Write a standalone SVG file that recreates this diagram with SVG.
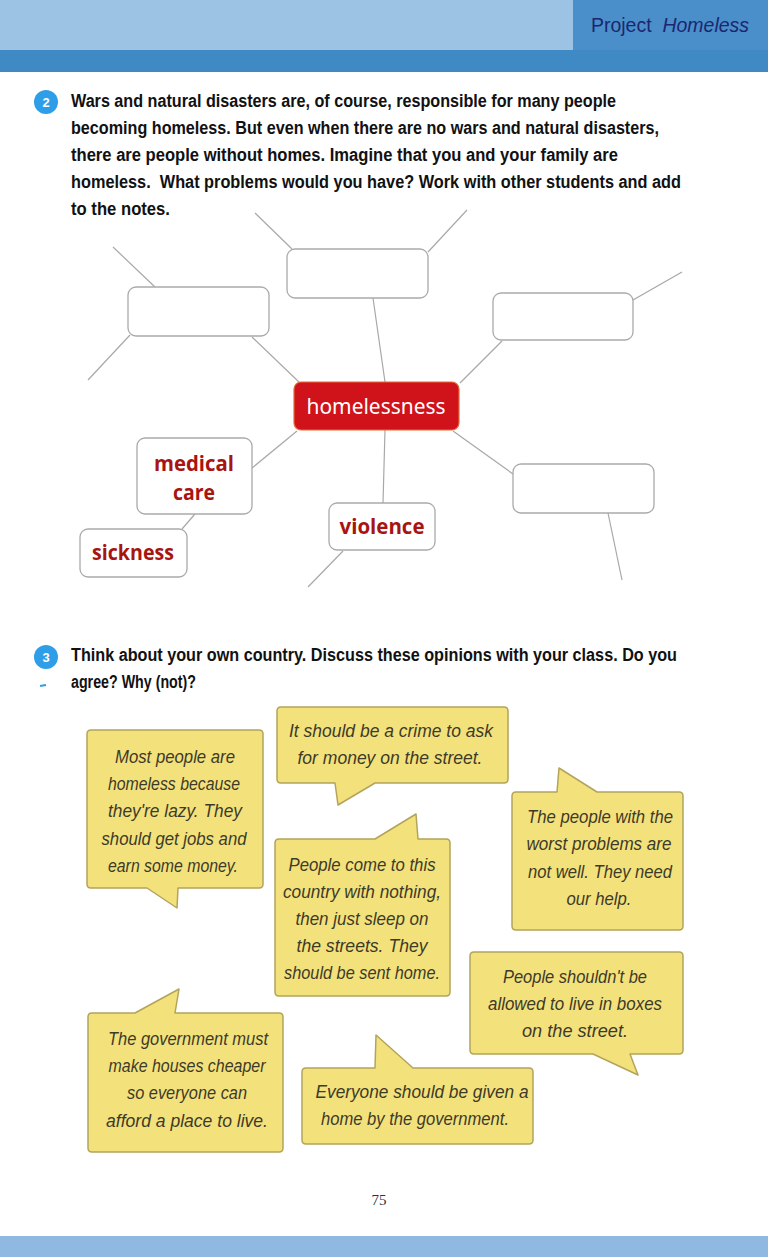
<svg xmlns="http://www.w3.org/2000/svg" width="768" height="1257" viewBox="0 0 768 1257">
<style>
.instr{font-family:"Liberation Sans",Arial,sans-serif;font-weight:bold;font-size:18px;fill:#111;}
.num{font-family:"Liberation Sans",Arial,sans-serif;font-weight:bold;font-size:13px;fill:#fff;}
.box{fill:#fff;stroke:#aaa;stroke-width:1.3;}
.lbl{font-family:"Open Sans","Liberation Sans",sans-serif;font-weight:bold;font-size:22px;fill:#a81410;text-anchor:middle;}
.conn line{stroke:#a8a8a8;stroke-width:1.2;}
.bub{fill:#f3e27c;stroke:#b3a45c;stroke-width:1.5;stroke-linejoin:round;}
.bt{font-family:"Liberation Sans",Arial,sans-serif;font-style:italic;font-size:17.5px;fill:#3e3a28;text-anchor:middle;}
</style>
<rect width="768" height="1257" fill="#fff"/>
<!-- header -->
<rect x="0" y="0" width="768" height="50" fill="#9cc2e4"/>
<rect x="573" y="0" width="195" height="50" fill="#4a8fca"/>
<rect x="0" y="50" width="768" height="22" fill="#3f89c5"/>
<text x="591" y="32" font-family="Liberation Sans,Arial,sans-serif" font-size="21" fill="#1c2670" textLength="158" lengthAdjust="spacingAndGlyphs">Project <tspan font-style="italic" dx="6">Homeless</tspan></text>
<rect x="0" y="1236" width="768" height="21" fill="#8fb9e0"/>
<text x="379" y="1205" font-family="Liberation Serif,serif" font-size="15" fill="#333" text-anchor="middle">75</text>

<!-- section 2 -->
<circle cx="46" cy="102" r="12" fill="#2f9ee8"/>
<text class="num" x="46" y="107" text-anchor="middle">2</text>
<text class="instr" x="71" y="107" textLength="545" lengthAdjust="spacingAndGlyphs">Wars and natural disasters are, of course, responsible for many people</text>
<text class="instr" x="71" y="134" textLength="588" lengthAdjust="spacingAndGlyphs">becoming homeless. But even when there are no wars and natural disasters,</text>
<text class="instr" x="71" y="161" textLength="547" lengthAdjust="spacingAndGlyphs">there are people without homes. Imagine that you and your family are</text>
<text class="instr" x="71" y="188" textLength="610" lengthAdjust="spacingAndGlyphs" xml:space="preserve">homeless.  What problems would you have? Work with other students and add</text>
<text class="instr" x="71" y="215" textLength="99" lengthAdjust="spacingAndGlyphs">to the notes.</text>

<!-- mind map connectors -->
<g id="connectors" class="conn">
<line x1="255" y1="213" x2="292" y2="249"/>
<line x1="428" y1="252" x2="467" y2="210"/>
<line x1="113" y1="247" x2="155" y2="287"/>
<line x1="130" y1="335" x2="88" y2="380"/>
<line x1="252" y1="337" x2="300" y2="383"/>
<line x1="373" y1="298" x2="385" y2="382"/>
<line x1="633" y1="300" x2="682" y2="272"/>
<line x1="502" y1="341" x2="460" y2="383"/>
<line x1="297" y1="431" x2="252" y2="468"/>
<line x1="385" y1="430" x2="383" y2="503"/>
<line x1="453" y1="431" x2="513" y2="474"/>
<line x1="608" y1="513" x2="622" y2="580"/>
<line x1="343" y1="551" x2="308" y2="587"/>
<line x1="195" y1="514" x2="182" y2="529"/>
</g>

<g id="node-top"><rect class="box" x="287" y="249" width="141" height="49" rx="8"/></g>
<g id="node-left"><rect class="box" x="128" y="287" width="141" height="49" rx="8"/></g>
<g id="node-right"><rect class="box" x="493" y="293" width="140" height="47" rx="8"/></g>
<g id="node-right-bottom"><rect class="box" x="513" y="464" width="141" height="49" rx="8"/></g>
<g id="node-center">
<rect x="294" y="382" width="165" height="48" rx="7" fill="#d0121a" stroke="#e86a3a" stroke-width="1.2"/>
<text x="376" y="414" font-family="Noto Sans,Open Sans,sans-serif" font-size="21" fill="#fff" text-anchor="middle" textLength="139" lengthAdjust="spacingAndGlyphs">homelessness</text>
</g>
<g id="node-medical">
<rect class="box" x="137" y="438" width="115" height="76" rx="8"/>
<text class="lbl" x="194" y="471" textLength="80" lengthAdjust="spacingAndGlyphs">medical</text>
<text class="lbl" x="194" y="500" textLength="42" lengthAdjust="spacingAndGlyphs">care</text>
</g>
<g id="node-sickness">
<rect class="box" x="80" y="529" width="107" height="48" rx="8"/>
<text class="lbl" x="133" y="560" textLength="82" lengthAdjust="spacingAndGlyphs">sickness</text>
</g>
<g id="node-violence">
<rect class="box" x="329" y="503" width="106" height="47" rx="8"/>
<text class="lbl" x="382" y="534" textLength="85" lengthAdjust="spacingAndGlyphs">violence</text>
</g>

<!-- section 3 -->
<circle cx="46" cy="657" r="12" fill="#2f9ee8"/>
<text class="num" x="46" y="662" text-anchor="middle">3</text>
<line x1="40" y1="686" x2="46" y2="685" stroke="#2f9ee8" stroke-width="2"/>
<text class="instr" x="71" y="661" textLength="606" lengthAdjust="spacingAndGlyphs">Think about your own country. Discuss these opinions with your class. Do you</text>
<text class="instr" x="71" y="688" textLength="125" lengthAdjust="spacingAndGlyphs">agree? Why (not)?</text>

<g id="bubble-lazy">
<path class="bub" d="M91,730 H259 Q263,730 263,734 V884 Q263,888 259,888 H178 L177,908 L147,888 H91 Q87,888 87,884 V734 Q87,730 91,730 Z"/>
<text class="bt" x="175" y="763" textLength="120" lengthAdjust="spacingAndGlyphs">Most people are</text>
<text class="bt" x="174" y="790" textLength="132" lengthAdjust="spacingAndGlyphs">homeless because</text>
<text class="bt" x="175" y="817" textLength="134" lengthAdjust="spacingAndGlyphs">they're lazy. They</text>
<text class="bt" x="174" y="845" textLength="145" lengthAdjust="spacingAndGlyphs">should get jobs and</text>
<text class="bt" x="173" y="872" textLength="130" lengthAdjust="spacingAndGlyphs">earn some money.</text>
</g>
<g id="bubble-crime">
<path class="bub" d="M281,707 H504 Q508,707 508,711 V779 Q508,783 504,783 H375 L338,805 L335,783 H281 Q277,783 277,779 V711 Q277,707 281,707 Z"/>
<text class="bt" x="391" y="737" textLength="204" lengthAdjust="spacingAndGlyphs">It should be a crime to ask</text>
<text class="bt" x="390" y="764" textLength="185" lengthAdjust="spacingAndGlyphs">for money on the street.</text>
</g>
<g id="bubble-notwell">
<path class="bub" d="M516,792 H557 L559,768 L597,792 H679 Q683,792 683,796 V926 Q683,930 679,930 H516 Q512,930 512,926 V796 Q512,792 516,792 Z"/>
<text class="bt" x="600" y="823" textLength="146" lengthAdjust="spacingAndGlyphs">The people with the</text>
<text class="bt" x="599" y="850" textLength="145" lengthAdjust="spacingAndGlyphs">worst problems are</text>
<text class="bt" x="600" y="878" textLength="144" lengthAdjust="spacingAndGlyphs">not well. They need</text>
<text class="bt" x="599" y="905" textLength="65" lengthAdjust="spacingAndGlyphs">our help.</text>
</g>
<g id="bubble-sent-home">
<path class="bub" d="M279,839 H375 L416,814 L418,839 H446 Q450,839 450,843 V992 Q450,996 446,996 H279 Q275,996 275,992 V843 Q275,839 279,839 Z"/>
<text class="bt" x="362" y="871" textLength="147" lengthAdjust="spacingAndGlyphs">People come to this</text>
<text class="bt" x="362" y="898" textLength="158" lengthAdjust="spacingAndGlyphs">country with nothing,</text>
<text class="bt" x="362" y="925" textLength="133" lengthAdjust="spacingAndGlyphs">then just sleep on</text>
<text class="bt" x="362" y="952" textLength="131" lengthAdjust="spacingAndGlyphs">the streets. They</text>
<text class="bt" x="362" y="979" textLength="156" lengthAdjust="spacingAndGlyphs">should be sent home.</text>
</g>
<g id="bubble-boxes">
<path class="bub" d="M474,952 H679 Q683,952 683,956 V1050 Q683,1054 679,1054 H630 L638,1075 L593,1054 H474 Q470,1054 470,1050 V956 Q470,952 474,952 Z"/>
<text class="bt" x="575" y="983" textLength="144" lengthAdjust="spacingAndGlyphs">People shouldn't be</text>
<text class="bt" x="575" y="1010" textLength="174" lengthAdjust="spacingAndGlyphs">allowed to live in boxes</text>
<text class="bt" x="575" y="1037" textLength="106" lengthAdjust="spacingAndGlyphs">on the street.</text>
</g>
<g id="bubble-cheaper">
<path class="bub" d="M92,1013 H135 L179,989 L175,1013 H279 Q283,1013 283,1017 V1148 Q283,1152 279,1152 H92 Q88,1152 88,1148 V1017 Q88,1013 92,1013 Z"/>
<text class="bt" x="188" y="1045" textLength="160" lengthAdjust="spacingAndGlyphs">The government must</text>
<text class="bt" x="187" y="1072" textLength="157" lengthAdjust="spacingAndGlyphs">make houses cheaper</text>
<text class="bt" x="187" y="1099" textLength="120" lengthAdjust="spacingAndGlyphs">so everyone can</text>
<text class="bt" x="187" y="1127" textLength="162" lengthAdjust="spacingAndGlyphs">afford a place to live.</text>
</g>
<g id="bubble-given">
<path class="bub" d="M306,1068 H375 L376,1035 L413,1068 H529 Q533,1068 533,1072 V1140 Q533,1144 529,1144 H306 Q302,1144 302,1140 V1072 Q302,1068 306,1068 Z"/>
<text class="bt" x="422" y="1098" textLength="213" lengthAdjust="spacingAndGlyphs">Everyone should be given a</text>
<text class="bt" x="415" y="1125" textLength="188" lengthAdjust="spacingAndGlyphs">home by the government.</text>
</g>
</svg>
